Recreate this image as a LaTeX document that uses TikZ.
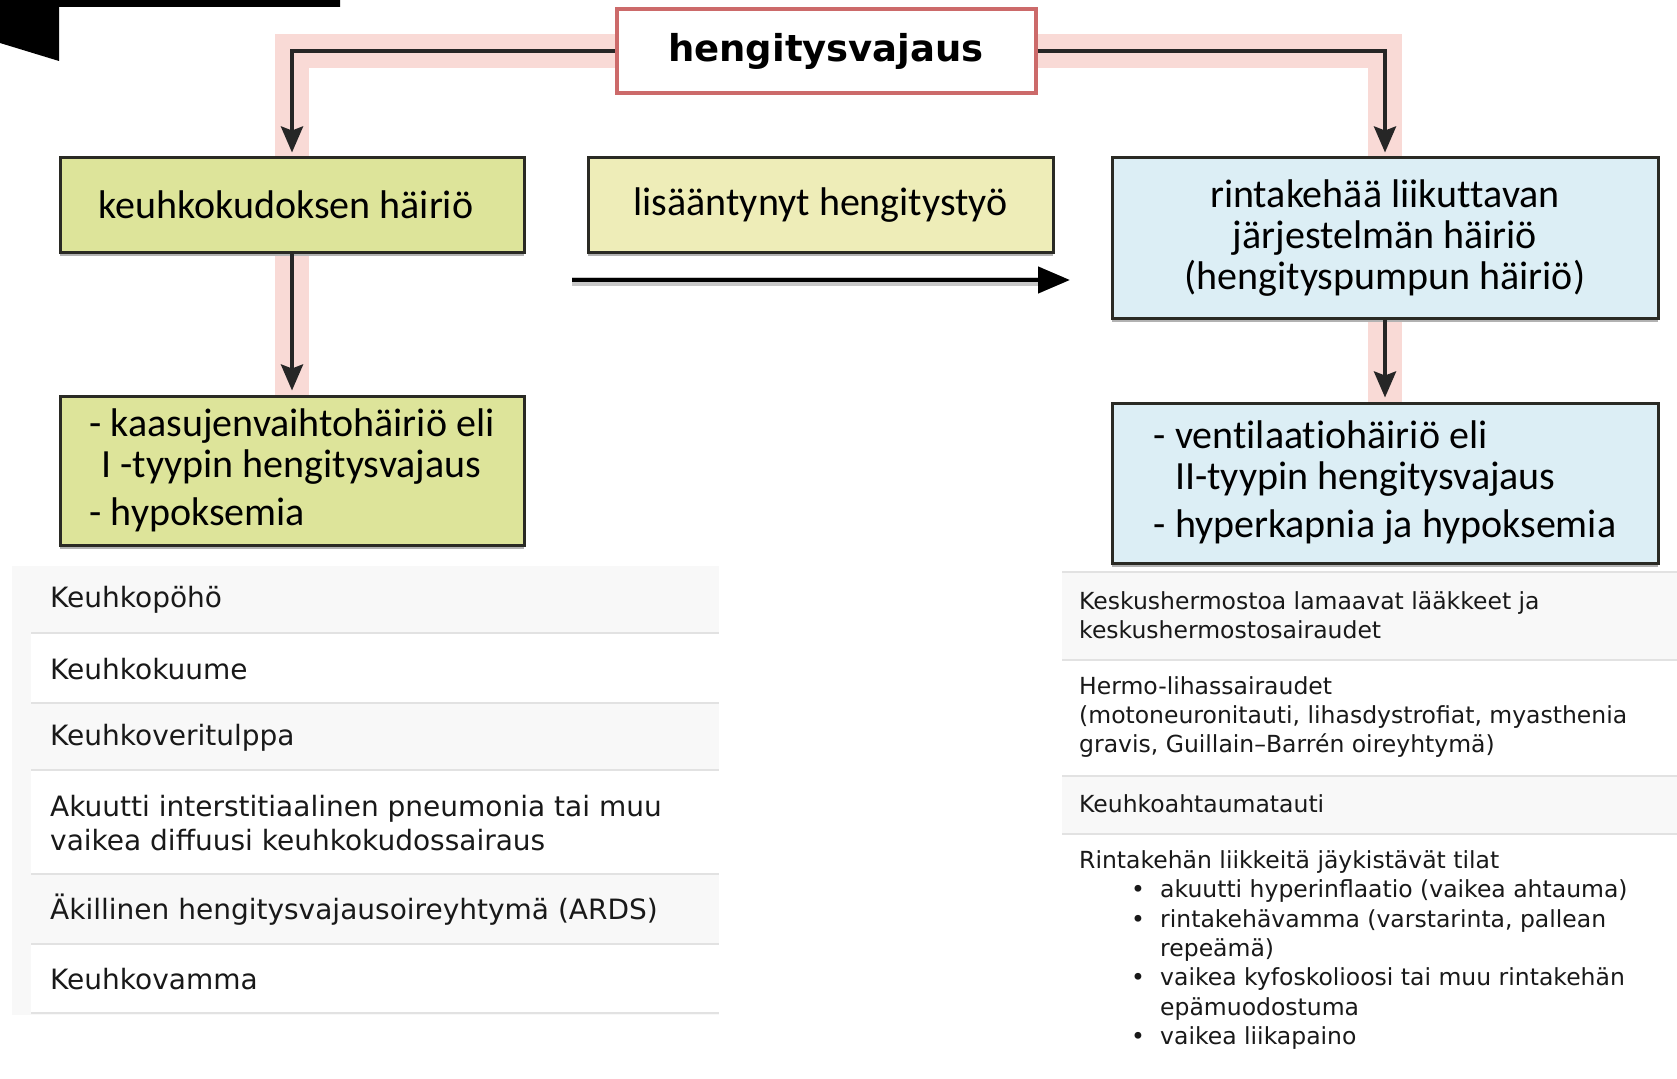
\documentclass[tikz,border=0pt]{standalone}
\usepackage{fontspec}
\usepackage{tikz}
\usetikzlibrary{arrows.meta,shadows,backgrounds}
\newfontfamily\boxfont[Ligatures={NoCommon,NoContextual,NoRare},RawFeature={-calt}]{Carlito}
\newfontfamily\taulufont{DejaVu Sans}

\definecolor{keltavihrea}{RGB}{221,228,154}
\definecolor{keltainen}{RGB}{238,237,184}
\definecolor{vaaleansininen}{RGB}{220,238,245}
\definecolor{roosa}{RGB}{249,218,214}
\definecolor{punareuna}{RGB}{204,106,106}
\definecolor{reuna}{RGB}{42,42,36}
\definecolor{rivi}{RGB}{248,248,248}
\definecolor{viiva}{RGB}{226,226,226}
\definecolor{teksti}{RGB}{25,25,25}

\begin{document}
\begin{tikzpicture}[x=1pt,y=-1pt,
    laatikko/.style={draw=reuna, line width=3pt, inner sep=0pt, align=center,
        font=\boxfont\fontsize{40}{41}\selectfont,
        drop shadow={shadow xshift=0pt, shadow yshift=-4pt, fill=black!30, opacity=1}},
    nuoli/.style={line width=4pt, draw=black!85, shorten >=4pt,
        -{Stealth[length=26pt,width=22pt,inset=4pt]}},
    nauha/.style={line width=34pt, draw=roosa},
    taulu/.style={anchor=west, align=left, inner sep=0pt, text=teksti},
    isotaulu/.style={taulu, font=\taulufont\fontsize{28}{34}\selectfont},
    pienitaulu/.style={taulu, font=\taulufont\fontsize{23.5}{29.3}\selectfont},
    erotin/.style={line width=2.5pt, draw=viiva}]
\useasboundingbox (0,0) rectangle (1677,1078);

% musta kulma vasemmalla ylhaalla
\fill (0,0) -- (340,0) -- (340,7) -- (59,7) -- (59,61) -- (0,43) -- cycle;

% ylin laatikko
\node[draw=punareuna, line width=4pt, fill=white, minimum width=419pt, minimum height=84pt,
      font=\taulufont\bfseries\fontsize{37}{40}\selectfont] (vajaus) at (826,51) {hengitysvajaus};

% toinen rivi
\node[laatikko, fill=keltavihrea, minimum width=464pt, minimum height=94pt] (kudos) at (292,205) {keuhkokudoksen häiriö\hspace*{12pt}};
\node[laatikko, fill=keltainen, minimum width=465pt, minimum height=94pt] (tyo) at (820.5,205) {lisääntynyt hengitystyö};
\node[laatikko, fill=vaaleansininen, minimum width=546pt, minimum height=160pt] (pumppu) at (1385,238)
    {rintakehää liikut\kern0pt tavan\\järjestelmän häiriö\\(hengityspumpun häiriö)};

% alimmat laatikot
\node[laatikko, fill=keltavihrea, align=left, minimum width=464pt, minimum height=149pt] (tyyppi1) at (292,470.5)
    {- kaasujenvaihtohäiriö eli\\\hspace*{12pt}I -tyypin hengitysvajaus\\[7pt]- hypoksemia};
\node[laatikko, fill=vaaleansininen, align=left, minimum width=546pt, minimum height=160pt] (tyyppi2) at (1385,483)
    {- vent\kern0pt ilaat\kern0pt iohäiriö eli\\\hphantom{- }II-tyypin hengitysvajaus\\[7pt]- hyperkapnia ja hypoksemia};

% nuolet
\begin{scope}[on background layer]
    \draw[nauha] (vajaus.west) -| (kudos.north);
    \draw[nauha] (vajaus.east) -| (pumppu.north);
    \draw[nauha] (kudos.south) -- (tyyppi1.north);
    \draw[nauha] (pumppu.south) -- (tyyppi2.north);
\end{scope}
\draw[nuoli] (vajaus.west) -| (kudos.north);
\draw[nuoli] (vajaus.east) -| (pumppu.north);
\draw[nuoli] (kudos.south) -- (tyyppi1.north);
\draw[nuoli] (pumppu.south) -- (tyyppi2.north);

\coordinate (tyo-a) at (572,280);
\coordinate (tyo-b) at (1070,280);
\draw[line width=9pt, black!22] ([yshift=-1pt]tyo-a) -- ([xshift=-24pt,yshift=-1pt]tyo-b);
\draw[line width=4.5pt, -{Triangle[length=32pt,width=26pt]}] (tyo-a) -- (tyo-b);

% vasen taulukko
\fill[rivi] (12,566) rectangle (719,1015);
\fill[white] (31,633) rectangle (719,703);
\fill[white] (31,770) rectangle (719,874);
\fill[white] (31,944) rectangle (719,1013);
\foreach \y in {633,703,770,874,944,1013}
    \draw[erotin] (31,\y) -- (719,\y);
\node[isotaulu] (popo) at (50,600) {Keuhkopöhö};
\node[isotaulu] (kuume) at (50,669) {Keuhkokuume};
\node[isotaulu] (tulppa) at (50,738) {Keuhkoveritulppa};
\node[isotaulu] (pneumonia) at (50,823) {Akuutti interstitiaalinen pneumonia tai muu\\vaikea diffuusi keuhkokudossairaus};
\node[isotaulu] (ards) at (50,910) {Äkillinen hengitysvajausoireyhtymä (ARDS)};
\node[isotaulu] (vamma) at (50,979) {Keuhkovamma};

% oikea taulukko
\fill[rivi] (1062,572) rectangle (1677,1078);
\fill[white] (1062,660) rectangle (1677,776);
\fill[white] (1062,834) rectangle (1677,1078);
\foreach \y in {572,660,776,834}
    \draw[erotin] (1062,\y) -- (1677,\y);
\node[pienitaulu] (laakkeet) at (1079,615.5) {Keskushermostoa lamaavat lääkkeet ja\\keskushermostosairaudet};
\node[pienitaulu] (lihas) at (1079,717) {Hermo-lihassairaudet\\(motoneuronitauti, lihasdystrofiat, myasthenia\\gravis, Guillain–Barrén oireyhtymä)};
\node[pienitaulu] (ahtauma) at (1079,804) {Keuhkoahtaumatauti};
\node[pienitaulu] (jaykka) at (1079,950) {Rintakehän liikkeitä jäykistävät tilat\\
    \hspace*{52pt}\makebox[29pt][l]{•}akuutti hyperinflaatio (vaikea ahtauma)\\
    \hspace*{52pt}\makebox[29pt][l]{•}rintakehävamma (varstarinta, pallean\\
    \hspace*{81pt}repeämä)\\
    \hspace*{52pt}\makebox[29pt][l]{•}vaikea kyfoskolioosi tai muu rintakehän\\
    \hspace*{81pt}epämuodostuma\\
    \hspace*{52pt}\makebox[29pt][l]{•}vaikea liikapaino};
\end{tikzpicture}
\end{document}
